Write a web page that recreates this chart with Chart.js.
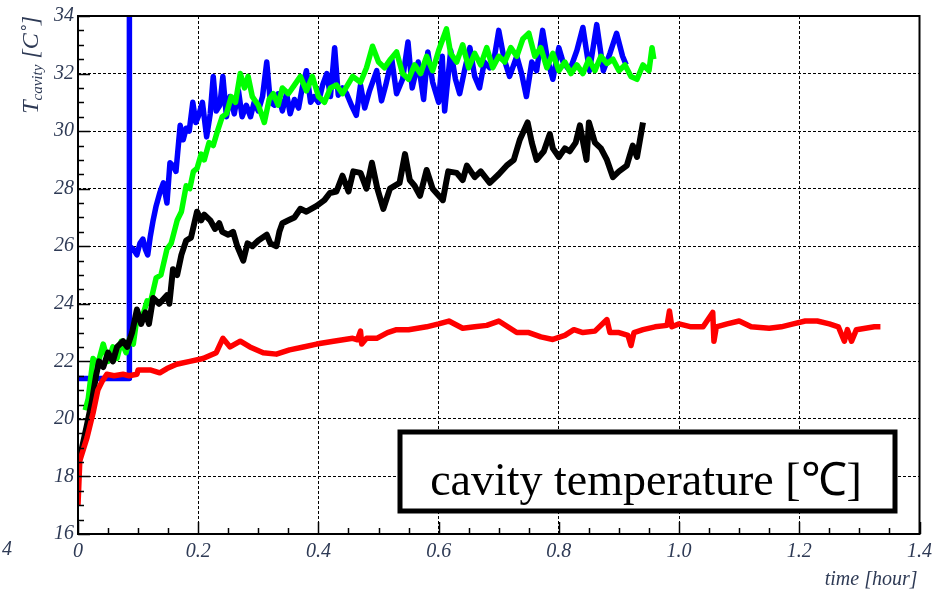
<!DOCTYPE html>
<html>
<head>
<meta charset="utf-8">
<script src="https://cdn.jsdelivr.net/npm/chart.js@4.4.0/dist/chart.umd.min.js"></script>
<style>
  html, body { margin: 0; padding: 0; background: #fff; }
</style>
</head>
<body>
<canvas id="chart" width="938" height="595"></canvas>
<script>
// time in hours, temperature in degC
var redTime = [0, 0.003, 0.015, 0.025, 0.033, 0.04, 0.048, 0.06, 0.075, 0.085, 0.098, 0.1, 0.12, 0.136, 0.148, 0.164, 0.186, 0.208, 0.23, 0.241, 0.253, 0.27, 0.286, 0.308, 0.33, 0.352, 0.375, 0.397, 0.425, 0.457, 0.465, 0.47, 0.472, 0.48, 0.497, 0.515, 0.53, 0.55, 0.58, 0.6, 0.617, 0.64, 0.66, 0.68, 0.7, 0.715, 0.73, 0.75, 0.77, 0.79, 0.81, 0.825, 0.84, 0.86, 0.88, 0.885, 0.9, 0.915, 0.92, 0.925, 0.94, 0.96, 0.98, 0.984, 0.988, 1.0, 1.02, 1.04, 1.056, 1.058, 1.062, 1.08, 1.1, 1.12, 1.15, 1.17, 1.19, 1.21, 1.23, 1.25, 1.265, 1.275, 1.28, 1.287, 1.295, 1.31, 1.325, 1.335];
var redTemp = [17.0, 18.55, 19.35, 20.2, 21.0, 21.3, 21.55, 21.5, 21.55, 21.5, 21.55, 21.7, 21.7, 21.6, 21.75, 21.9, 22.0, 22.1, 22.3, 22.8, 22.5, 22.7, 22.5, 22.3, 22.25, 22.4, 22.5, 22.6, 22.7, 22.8, 22.75, 23.05, 22.6, 22.8, 22.8, 23.0, 23.1, 23.1, 23.2, 23.3, 23.4, 23.15, 23.2, 23.25, 23.4, 23.2, 23.0, 23.0, 22.85, 22.76, 22.9, 23.1, 23.0, 23.05, 23.45, 23.0, 23.0, 22.9, 22.55, 23.0, 23.1, 23.2, 23.25, 23.75, 23.2, 23.3, 23.2, 23.2, 23.7, 22.7, 23.2, 23.3, 23.4, 23.2, 23.15, 23.2, 23.3, 23.4, 23.4, 23.3, 23.2, 22.7, 23.1, 22.7, 23.1, 23.15, 23.2, 23.2];

var blackTime = [0, 0.003, 0.015, 0.023, 0.03, 0.035, 0.042, 0.05, 0.058, 0.065, 0.075, 0.082, 0.09, 0.098, 0.105, 0.112, 0.118, 0.125, 0.135, 0.148, 0.152, 0.158, 0.165, 0.172, 0.18, 0.188, 0.198, 0.205, 0.21, 0.22, 0.228, 0.235, 0.24, 0.25, 0.258, 0.265, 0.275, 0.282, 0.29, 0.3, 0.314, 0.32, 0.33, 0.335, 0.34, 0.35, 0.36, 0.37, 0.38, 0.397, 0.41, 0.419, 0.43, 0.44, 0.45, 0.458, 0.47, 0.48, 0.489, 0.498, 0.508, 0.519, 0.535, 0.544, 0.552, 0.56, 0.569, 0.58, 0.59, 0.607, 0.616, 0.63, 0.64, 0.647, 0.66, 0.67, 0.685, 0.7, 0.713, 0.725, 0.735, 0.748, 0.755, 0.763, 0.775, 0.785, 0.79, 0.8, 0.81, 0.818, 0.828, 0.835, 0.846, 0.85, 0.86, 0.87, 0.88, 0.89, 0.9, 0.913, 0.923, 0.93, 0.94];
var blackTemp = [18.4, 18.65, 19.8, 20.6, 21.5, 22.0, 21.8, 22.3, 22.0, 22.5, 22.7, 22.5, 23.0, 23.8, 23.3, 23.7, 23.3, 24.2, 24.0, 24.3, 24.0, 25.2, 25.0, 25.7, 26.2, 26.3, 27.2, 26.9, 27.1, 26.9, 26.6, 26.8, 26.5, 26.4, 26.5, 26.0, 25.5, 26.1, 26.0, 26.2, 26.4, 26.1, 26.0, 26.5, 26.8, 26.9, 27.0, 27.3, 27.2, 27.4, 27.6, 27.85, 27.9, 28.45, 27.9, 28.6, 28.55, 28.0, 28.9, 28.0, 27.3, 28.0, 28.2, 29.2, 28.3, 28.1, 27.75, 28.65, 28.0, 27.6, 28.6, 28.55, 28.3, 28.8, 28.4, 28.6, 28.2, 28.5, 28.8, 29.0, 29.7, 30.3, 29.6, 29.0, 29.3, 29.9, 29.4, 29.1, 29.4, 29.3, 29.6, 30.2, 29.0, 30.3, 29.6, 29.4, 29.0, 28.4, 28.6, 28.8, 29.5, 29.1, 30.3];

var greenTime = [0.012, 0.017, 0.025, 0.033, 0.042, 0.05, 0.058, 0.065, 0.072, 0.08, 0.086, 0.092, 0.098, 0.105, 0.115, 0.12, 0.13, 0.138, 0.148, 0.155, 0.165, 0.172, 0.18, 0.186, 0.192, 0.198, 0.205, 0.21, 0.218, 0.225, 0.232, 0.24, 0.247, 0.255, 0.262, 0.27, 0.277, 0.283, 0.29, 0.3, 0.31, 0.318, 0.325, 0.333, 0.34, 0.35, 0.36, 0.37, 0.38, 0.39, 0.4, 0.41, 0.42, 0.43, 0.44, 0.457, 0.47, 0.48, 0.49, 0.5, 0.51, 0.52, 0.53, 0.54, 0.55, 0.56, 0.57, 0.58, 0.59, 0.6, 0.613, 0.62, 0.63, 0.64, 0.65, 0.66, 0.67, 0.68, 0.69, 0.7, 0.71, 0.72, 0.73, 0.74, 0.75, 0.76, 0.77, 0.78, 0.79, 0.8, 0.81, 0.82, 0.83, 0.84, 0.85, 0.86, 0.87, 0.88, 0.89, 0.9, 0.91, 0.92, 0.93, 0.94, 0.95, 0.955, 0.958];
var greenTemp = [20.3, 20.7, 22.1, 21.9, 22.6, 22.0, 22.5, 22.1, 22.7, 22.3, 22.8, 22.6, 23.5, 23.4, 24.1, 24.0, 24.9, 25.0, 25.9, 26.1, 26.9, 27.2, 28.1, 28.0, 28.6, 28.7, 29.2, 29.0, 29.6, 29.5, 30.0, 30.5, 30.6, 31.2, 31.0, 32.0, 31.5, 31.9, 31.2, 30.9, 30.3, 31.1, 31.3, 30.9, 31.5, 31.3, 31.6, 31.9, 31.4, 31.9, 31.2, 31.0, 31.5, 31.6, 31.3, 31.9, 31.7, 32.2, 32.95, 32.4, 32.2, 32.5, 32.75, 32.0, 31.8, 32.3, 32.0, 32.6, 32.1, 32.8, 33.55, 32.7, 32.4, 33.0, 32.2, 32.7, 32.3, 32.9, 32.2, 32.6, 32.4, 32.9, 32.6, 33.2, 33.4, 32.6, 32.9, 32.2, 32.7, 32.1, 32.4, 32.0, 32.3, 32.0, 32.5, 32.1, 32.6, 32.35, 32.5, 32.1, 32.3, 31.9, 31.8, 32.3, 32.1, 32.9, 32.5];

var blueTime = [0, 0.085, 0.085, 0.086, 0.092, 0.098, 0.103, 0.108, 0.112, 0.116, 0.12, 0.125, 0.13, 0.136, 0.142, 0.148, 0.153, 0.158, 0.163, 0.17, 0.175, 0.18, 0.185, 0.191, 0.196, 0.2, 0.207, 0.214, 0.22, 0.225, 0.23, 0.236, 0.241, 0.247, 0.253, 0.26, 0.267, 0.273, 0.28, 0.287, 0.293, 0.3, 0.307, 0.314, 0.32, 0.327, 0.333, 0.34, 0.347, 0.353, 0.36, 0.367, 0.373, 0.38, 0.387, 0.393, 0.4, 0.407, 0.414, 0.42, 0.427, 0.433, 0.44, 0.447, 0.455, 0.463, 0.47, 0.477, 0.485, 0.497, 0.505, 0.512, 0.522, 0.53, 0.54, 0.549, 0.556, 0.566, 0.575, 0.582, 0.59, 0.6, 0.606, 0.61, 0.62, 0.628, 0.635, 0.644, 0.652, 0.66, 0.668, 0.676, 0.685, 0.693, 0.7, 0.709, 0.718, 0.73, 0.738, 0.746, 0.755, 0.763, 0.773, 0.781, 0.79, 0.8, 0.807, 0.818, 0.83, 0.84, 0.851, 0.863, 0.874, 0.885, 0.896, 0.906, 0.912];
var blueTemp = [21.4, 21.4, 40, 26.0, 25.9, 25.7, 26.1, 26.25, 25.9, 25.7, 26.3, 26.9, 27.4, 27.85, 28.2, 27.5, 28.9, 28.8, 28.6, 30.2, 29.7, 30.1, 30.0, 31.0, 30.3, 30.5, 31.0, 29.8, 30.6, 31.9, 30.7, 30.9, 31.9, 30.5, 31.2, 30.6, 31.4, 30.5, 30.9, 30.5, 31.0, 30.7, 31.2, 32.4, 31.0, 30.9, 31.3, 30.7, 31.3, 30.6, 31.1, 30.8, 31.5, 32.1, 31.0, 31.2, 31.0, 31.6, 32.0, 31.2, 32.9, 31.25, 31.5, 31.3, 30.9, 30.55, 31.6, 30.8, 31.4, 32.1, 31.05, 31.6, 32.5, 31.3, 31.8, 33.1, 31.5, 32.4, 31.1, 32.75, 31.7, 31.0, 32.6, 30.7, 32.8, 31.8, 31.3, 32.2, 32.9, 31.9, 31.5, 32.4, 32.2, 32.6, 33.5, 32.5, 31.9, 32.6, 32.0, 31.2, 32.4, 32.1, 33.5, 32.5, 31.8, 32.9, 32.4, 32.1, 32.8, 33.6, 32.1, 33.7, 32.1, 32.7, 33.4, 32.6, 32.3];

var xTicks = [0, 0.2, 0.4, 0.6, 0.8, 1, 1.2, 1.4];
var yTicks = [16, 18, 20, 22, 24, 26, 28, 30, 32, 34];

var LABEL_COLOR = '#2e3a55';
var LABEL_FONT = 'italic 20px "Liberation Serif", serif';

function points(ts, vs) {
    return ts.map(function (t, i) { return { x: t, y: vs[i] }; });
}

function line(ts, vs, color, width) {
    return {
        data: points(ts, vs),
        borderColor: color,
        borderWidth: width,
        pointRadius: 0,
        tension: 0,
        fill: false,
        borderJoinStyle: 'round',
        borderCapStyle: 'butt'
    };
}

// ROOT-like frame, inner tick marks, axis titles and the text box
var rootStyle = {
    id: 'rootStyle',
    afterDraw: function (chart) {
        var ctx = chart.ctx, a = chart.chartArea;
        var xs = chart.scales.x, ys = chart.scales.y;
        ctx.save();
        ctx.strokeStyle = '#000';
        ctx.lineWidth = 1.5;
        ctx.beginPath();
        var i, v, p, len;
        for (i = 0; i <= 36; i++) {
            v = 16 + i * 0.5;
            p = Math.round(ys.getPixelForValue(v)) + 0.5;
            len = (i % 4 === 0) ? 12 : 6;
            ctx.moveTo(a.left, p);
            ctx.lineTo(a.left + len, p);
        }
        for (i = 0; i <= 28; i++) {
            v = i * 0.05;
            p = Math.round(xs.getPixelForValue(v)) + 0.5;
            len = (i % 4 === 0) ? 12 : 6;
            ctx.moveTo(p, a.bottom);
            ctx.lineTo(p, a.bottom - len);
        }
        ctx.stroke();

        // frame
        ctx.lineWidth = 2;
        ctx.strokeRect(a.left, a.top, a.right - a.left, a.bottom - a.top);

        // x title
        ctx.fillStyle = LABEL_COLOR;
        ctx.font = LABEL_FONT;
        ctx.textAlign = 'right';
        ctx.textBaseline = 'alphabetic';
        ctx.fillText('time [hour]', a.right - 2, 585);

        // stray label at far left
        ctx.textAlign = 'left';
        ctx.fillText('4', 2, 555);

        // y title with subscript
        ctx.save();
        ctx.translate(38, a.top);
        ctx.rotate(-Math.PI / 2);
        var big = 'italic 24px "Liberation Serif", serif';
        var small = 'italic 15px "Liberation Serif", serif';
        ctx.font = big;
        var wT = ctx.measureText('T').width;
        var wR = ctx.measureText(' [C\u02DA]').width;
        ctx.font = small;
        var wS = ctx.measureText('cavity').width;
        var x0 = -(wT + wS + wR);
        ctx.textAlign = 'left';
        ctx.font = big;
        ctx.fillText('T', x0, 0);
        ctx.font = small;
        ctx.fillText('cavity', x0 + wT, 4);
        ctx.font = big;
        ctx.fillText(' [C\u02DA]', x0 + wT + wS, 0);
        ctx.restore();

        // text box
        ctx.fillStyle = '#fff';
        ctx.fillRect(400, 432, 495, 79);
        ctx.lineWidth = 5;
        ctx.strokeStyle = '#000';
        ctx.strokeRect(400, 432, 495, 79);
        ctx.fillStyle = '#000';
        ctx.font = '46px "Liberation Serif", serif';
        ctx.textAlign = 'center';
        ctx.fillText('cavity temperature [\u2103]', 646, 495);
        ctx.restore();
    }
};

new Chart(document.getElementById('chart'), {
    type: 'line',
    data: {
        datasets: [
            line(redTime, redTemp, '#ff0000', 5.5),
            line(blackTime, blackTemp, '#000000', 6),
            line(greenTime, greenTemp, '#00ff00', 5.5),
            line(blueTime, blueTemp, '#0000ff', 5.5)
        ]
    },
    options: {
        responsive: false,
        animation: false,
        layout: { padding: { top: 12, right: 18, left: 0, bottom: 0 } },
        plugins: { legend: { display: false }, tooltip: { enabled: false } },
        scales: {
            x: {
                type: 'linear',
                min: 0,
                max: 1.4,
                afterFit: function (s) { s.height = 61; },
                afterBuildTicks: function (s) { s.ticks = xTicks.map(function (v) { return { value: v }; }); },
                grid: { color: '#000', lineWidth: 1, drawTicks: false },
                border: { display: false, dash: [3, 2] },
                ticks: {
                    padding: 6,
                    color: LABEL_COLOR,
                    font: { family: '"Liberation Serif", serif', style: 'italic', size: 20 },
                    maxRotation: 0,
                    autoSkip: false
                }
            },
            y: {
                min: 16,
                max: 34,
                afterFit: function (s) { s.width = 78; },
                afterBuildTicks: function (s) { s.ticks = yTicks.map(function (v) { return { value: v }; }); },
                grid: { color: '#000', lineWidth: 1, drawTicks: false },
                border: { display: false, dash: [3, 2] },
                ticks: {
                    padding: 4,
                    color: LABEL_COLOR,
                    font: { family: '"Liberation Serif", serif', style: 'italic', size: 20 },
                    autoSkip: false
                }
            }
        }
    },
    plugins: [rootStyle]
});
</script>
</body>
</html>
